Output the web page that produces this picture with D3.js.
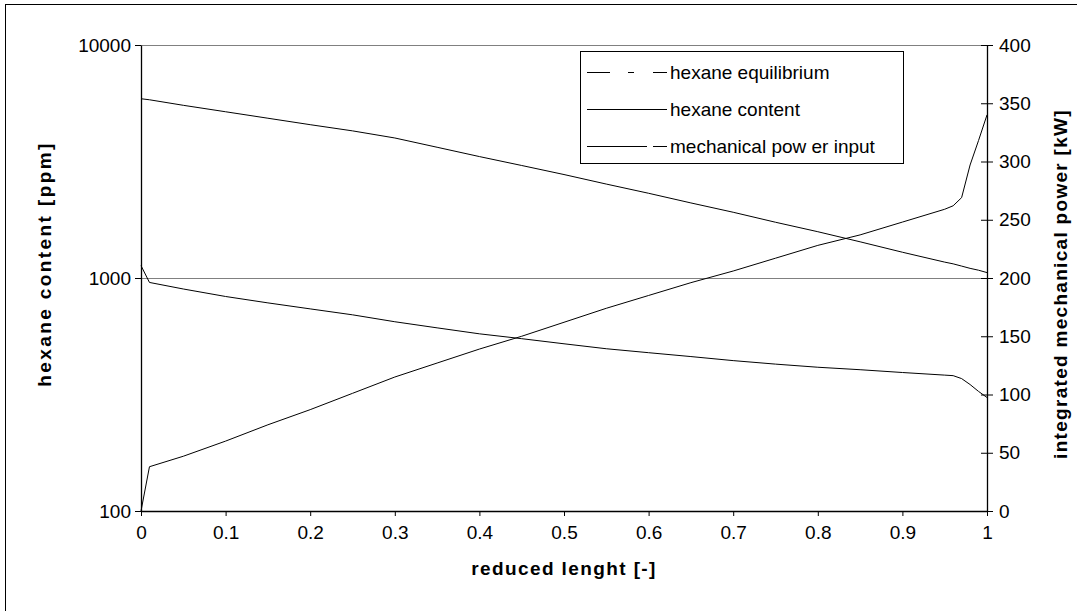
<!DOCTYPE html>
<html>
<head>
<meta charset="utf-8">
<script src="https://cdn.jsdelivr.net/npm/d3@7"></script>
<style>
  body { margin: 0; background: #fff; }
  svg text { font-family: "Liberation Sans", Arial, sans-serif; fill: #000; }
</style>
</head>
<body>
<div id="chart"></div>
<script>
// reduced length positions where values were read
const xPos = [0, 0.01, 0.05, 0.1, 0.15, 0.2, 0.25, 0.3, 0.35, 0.4, 0.45, 0.5, 0.55, 0.6, 0.65, 0.7, 0.75, 0.8, 0.85, 0.9, 0.95, 0.96, 0.97, 0.98, 0.99, 1];
// hexane content [ppm] (upper curve)
const hexaneContent = [5880, 5820, 5510, 5170, 4850, 4550, 4280, 3990, 3640, 3320, 3040, 2780, 2530, 2310, 2100, 1915, 1735, 1580, 1430, 1290, 1170, 1150, 1125, 1100, 1080, 1055];
// hexane equilibrium [ppm] (lower curve)
const hexaneEquilibrium = [1130, 957, 897, 833, 782, 737, 695, 649, 611, 576, 549, 522, 497, 478, 460, 442, 427, 414, 404, 393, 383, 381, 370, 349, 326, 307];
// integrated mechanical power [kW]
const mechPower = [0, 38, 47, 60, 74, 87, 101, 115, 127, 139, 150, 162, 174, 185, 196, 206, 217, 228, 237, 248, 259, 262, 269, 297, 318, 340];

const xTicks = [0, 0.1, 0.2, 0.3, 0.4, 0.5, 0.6, 0.7, 0.8, 0.9, 1];
const leftTicks = [100, 1000, 10000];
const rightTicks = [0, 50, 100, 150, 200, 250, 300, 350, 400];
const gridValues = [1000, 10000];

const legendItems = [
  { label: "hexane equilibrium", dash: "23,18,6,19,14" },
  { label: "hexane content", dash: null },
  { label: "mechanical pow er input", dash: "60,6,14" }
];

const W = 1077, H = 611;
const m = { left: 141, right: 987, top: 45, bottom: 511 };

const svg = d3.select("#chart").append("svg")
  .attr("width", W).attr("height", H);

// outer chart border (only top/left visible)
svg.append("rect")
  .attr("x", 5.5).attr("y", 4.5)
  .attr("width", 1200).attr("height", 800)
  .attr("fill", "none").attr("stroke", "#000").attr("stroke-width", 1);

const x = d3.scaleLinear().domain([0, 1]).range([m.left, m.right]);
const yL = d3.scaleLog().domain([100, 10000]).range([m.bottom, m.top]);
const yR = d3.scaleLinear().domain([0, 400]).range([m.bottom, m.top]);

// gridlines
svg.append("g").selectAll("line")
  .data(gridValues).enter().append("line")
  .attr("x1", m.left).attr("x2", m.right)
  .attr("y1", d => Math.round(yL(d)) + 0.5).attr("y2", d => Math.round(yL(d)) + 0.5)
  .attr("stroke", "#808080").attr("stroke-width", 1);

const fmtX = d => String(d);

// bottom axis
const gx = svg.append("g")
  .attr("transform", `translate(0,${m.bottom})`)
  .call(d3.axisBottom(x).tickValues(xTicks).tickFormat(fmtX).tickSize(5).tickSizeOuter(0));
gx.selectAll("text").attr("font-size", 19).attr("dy", "1.05em");

// left axis
const gl = svg.append("g")
  .attr("transform", `translate(${m.left},0)`)
  .call(d3.axisLeft(yL).tickValues(leftTicks).tickFormat(d3.format("d")).tickSize(6).tickSizeOuter(0));
gl.selectAll("text").attr("font-size", 19).attr("x", -10);

// right axis
const gr = svg.append("g")
  .attr("transform", `translate(${m.right},0)`)
  .call(d3.axisRight(yR).tickValues(rightTicks).tickSize(6).tickSizeOuter(0));
gr.selectAll(".tick line").attr("x1", -6);
gr.selectAll("text").attr("font-size", 19).attr("x", 12);

svg.selectAll(".domain").attr("stroke", "#000").attr("stroke-width", 1.3);
svg.selectAll(".tick line").attr("stroke", "#000");
svg.selectAll(".tick text").attr("font-family", "'Liberation Sans', Arial, sans-serif").attr("fill", "#000");

// series
const lineL = d3.line().x((d, i) => x(xPos[i])).y(d => yL(d));
const lineR = d3.line().x((d, i) => x(xPos[i])).y(d => yR(d));

[hexaneContent, hexaneEquilibrium].forEach(s => {
  svg.append("path").datum(s)
    .attr("d", lineL).attr("fill", "none")
    .attr("stroke", "#000").attr("stroke-width", 1);
});
svg.append("path").datum(mechPower)
  .attr("d", lineR).attr("fill", "none")
  .attr("stroke", "#000").attr("stroke-width", 1);

// axis titles
svg.append("text")
  .attr("x", (m.left + m.right) / 2).attr("y", 575)
  .attr("text-anchor", "middle").attr("font-size", 19).attr("font-weight", "bold")
  .attr("letter-spacing", 1.4)
  .text("reduced lenght [-]");

svg.append("text")
  .attr("transform", `translate(51,${(m.top + m.bottom) / 2 - 14}) rotate(-90)`)
  .attr("text-anchor", "middle").attr("font-size", 19).attr("font-weight", "bold")
  .attr("letter-spacing", 2.4)
  .text("hexane content [ppm]");

svg.append("text")
  .attr("transform", `translate(1067,${(m.top + m.bottom) / 2 + 6}) rotate(-90)`)
  .attr("text-anchor", "middle").attr("font-size", 19).attr("font-weight", "bold")
  .attr("letter-spacing", 1.3)
  .text("integrated mechanical power [kW]");

// legend
const lg = svg.append("g");
lg.append("rect")
  .attr("x", 580.5).attr("y", 51.5).attr("width", 323).attr("height", 112)
  .attr("fill", "#fff").attr("stroke", "#000").attr("stroke-width", 1);

legendItems.forEach((it, i) => {
  const yy = 72 + i * 37;
  lg.append("line")
    .attr("x1", 587).attr("x2", 667).attr("y1", yy + 0.5).attr("y2", yy + 0.5)
    .attr("stroke", "#000").attr("stroke-width", 1.1)
    .attr("stroke-dasharray", it.dash);
  lg.append("text")
    .attr("x", 670).attr("y", yy).attr("dy", "0.35em")
    .attr("font-size", 19).text(it.label);
});
</script>
</body>
</html>
